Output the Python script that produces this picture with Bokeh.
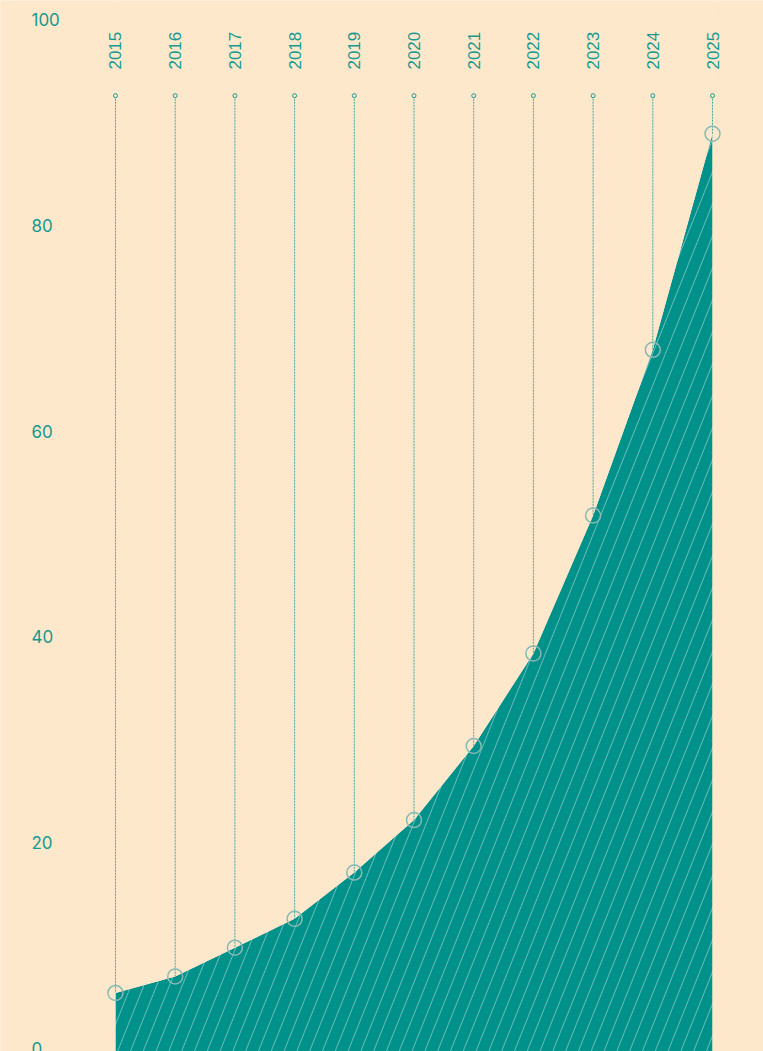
import math
from bokeh.plotting import figure
from bokeh.models import Range1d, ColumnDataSource
from bokeh.core.properties import value
from bokeh.embed import file_html
from bokeh.resources import INLINE

years = [2015, 2016, 2017, 2018, 2019, 2020, 2021, 2022, 2023, 2024, 2025]
values = [5.4, 7.0, 9.8, 12.6, 17.1, 22.2, 29.4, 38.4, 51.8, 67.9, 88.9]
year_labels = [str(y) for y in years]
y_ticks = [0, 20, 40, 60, 80, 100]
y_tick_labels = [str(t) for t in y_ticks]
guide_top = 92.6

BG = "#FDE8CC"
TEAL = "#00918A"
TEXT = "#17998F"
RING = "#88B9B5"

W, H = 763, 1051
X0, X1 = 2013.074, 2025.854
Y0, Y1 = -0.29, 101.85

p = figure(width=W, height=H, output_backend="svg", toolbar_location=None,
           x_range=Range1d(X0, X1), y_range=Range1d(Y0, Y1),
           min_border=0, background_fill_color=BG, border_fill_color=BG)
p.axis.visible = False
p.grid.visible = False
p.outline_line_color = None

src = ColumnDataSource(dict(x=years, y=values, lab=year_labels,
                            top=[guide_top] * len(years)))

# area fill
p.varea(x="x", y1=Y0 - 1, y2="y", source=src, fill_color=TEAL)

# steep diagonal hatch (decoration), masked afterwards
px_x = W / (X1 - X0)
rise = H / 2.5 / px_x          # horizontal run over full height (slope 2.5 in px)
step = 12.8 / px_x             # horizontal spacing between hatch lines
hx0, hx1 = [], []
k = 0
while True:
    xs = years[0] - rise + k * step
    if xs > years[-1]:
        break
    hx0.append(xs)
    hx1.append(xs + rise)
    k += 1
p.segment(x0=hx0, y0=[Y0] * len(hx0), x1=hx1, y1=[Y1] * len(hx0),
          line_color="white", line_alpha=0.42, line_width=1)

# mask: above the curve and outside the year span
p.varea(x="x", y1="y", y2=Y1 + 1, source=src, fill_color=BG)
p.quad(left=[X0 - 1, years[-1]], right=[years[0], X1 + 1],
       bottom=[Y0 - 1, Y0 - 1], top=[Y1 + 1, Y1 + 1],
       fill_color=BG, line_color=None)

# dotted guides
p.segment(x0="x", y0="top", x1="x", y1="y", source=src, line_color=TEXT,
          line_dash="2 1", line_width=1, line_alpha=0.8)
p.scatter(x="x", y="top", source=src, size=4, fill_color=BG,
          line_color=TEXT, line_width=1)

# markers
p.scatter(x="x", y="y", source=src, size=15, fill_color=None,
          line_color=RING, line_width=1.5)

# year labels
p.text(x="x", y=95.14, text="lab", source=src, angle=math.pi / 2,
       text_align="left", text_baseline="middle", text_color=TEXT,
       text_font=value("Liberation Sans"), text_font_size="17px")

# y tick labels
ysrc = ColumnDataSource(dict(y=y_ticks, t=y_tick_labels))
p.text(x=2013.593, y="y", text="t", source=ysrc, text_align="left",
       text_baseline="middle", text_color=TEXT,
       text_font=value("Inter"), text_font_size="17px")

open("out.html", "w").write(file_html(p, INLINE))
